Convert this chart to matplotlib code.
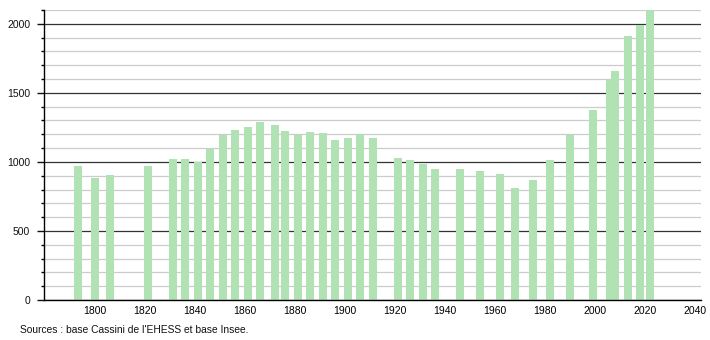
import matplotlib
matplotlib.use("Agg")
import matplotlib.pyplot as plt
from matplotlib.ticker import MultipleLocator

# census years and population
years = [1793, 1800, 1806, 1821, 1831, 1836, 1841, 1846, 1851, 1856,
         1861, 1866, 1872, 1876, 1881, 1886, 1891, 1896, 1901, 1906,
         1911, 1921, 1926, 1931, 1936, 1946, 1954, 1962, 1968, 1975,
         1982, 1990, 1999, 2006, 2008, 2013, 2018, 2022]
population = [972, 885, 907, 972, 1023, 1023, 1001, 1103, 1194, 1233,
              1255, 1289, 1269, 1226, 1192, 1219, 1211, 1161, 1175, 1204,
              1175, 1030, 1016, 987, 950, 950, 936, 914, 812, 870,
              1016, 1192, 1378, 1596, 1656, 1915, 1988, 2110]

xticks = [1800, 1820, 1840, 1860, 1880, 1900, 1920, 1940, 1960, 1980, 2000, 2020, 2040]
yticks = [0, 500, 1000, 1500, 2000]
source = "Sources : base Cassini de l'EHESS et base Insee."

plt.rcParams['font.family'] = ['Liberation Sans', 'DejaVu Sans']

fig = plt.figure(figsize=(7.1, 3.4), dpi=100)
ax = fig.add_axes([44/710, 1 - 300/340, (701 - 44)/710, (300 - 10)/340])

ax.bar(years, population, width=3.2, color='#b0e2b4', zorder=3)

ax.set_xlim(1779.6, 2042.4)
ax.set_ylim(0, 2100)

ax.yaxis.set_major_locator(MultipleLocator(500))
ax.yaxis.set_minor_locator(MultipleLocator(100))
ax.set_yticks(yticks)
ax.set_xticks(xticks)
ax.set_xticklabels([str(x) for x in xticks])

ax.grid(axis='y', which='minor', color='#cccccc', linewidth=0.9, zorder=1)
ax.grid(axis='y', which='major', color='#333333', linewidth=0.9, zorder=2)

for s in ['top', 'right']:
    ax.spines[s].set_visible(False)
ax.spines['left'].set_linewidth(1.0)
ax.spines['bottom'].set_linewidth(1.0)
ax.spines['left'].set_zorder(4)
ax.spines['bottom'].set_zorder(4)

ax.tick_params(axis='y', which='major', length=5, width=1, labelsize=7.5, pad=5, colors='#111111')
ax.tick_params(axis='y', which='minor', length=2.5, width=1)
ax.tick_params(axis='x', which='both', length=0, labelsize=7.5, pad=4)

fig.text(20/710, 1 - 330/340, source, fontsize=7.4, va='center', ha='left', color='#111111')

fig.savefig('out.png', dpi=100)
